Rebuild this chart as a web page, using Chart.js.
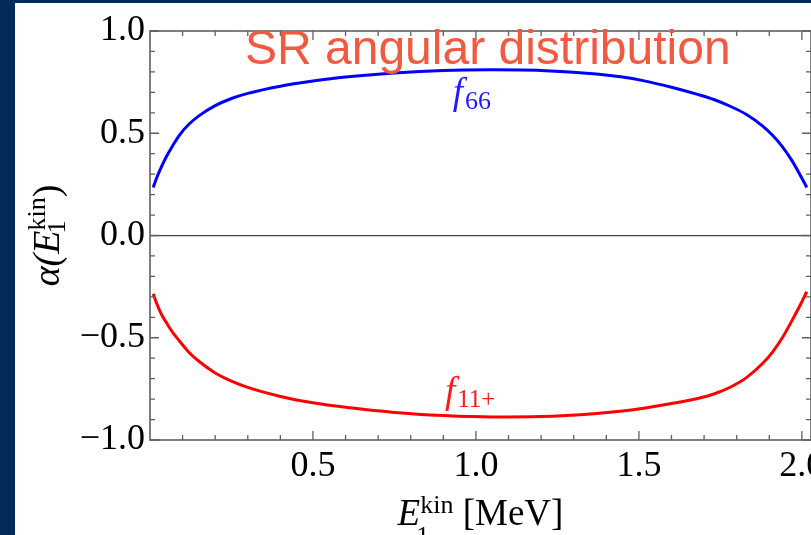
<!DOCTYPE html>
<html>
<head>
<meta charset="utf-8">
<script src="https://cdn.jsdelivr.net/npm/chart.js@4.4.1/dist/chart.umd.min.js"></script>
<style>
  html, body { margin: 0; padding: 0; background: #022a5a; width: 811px; height: 535px; overflow: hidden; }
  #painel { position: absolute; left: 15px; top: 3px; width: 796px; height: 532px; background: #ffffff; }
</style>
</head>
<body>
<div id="painel"><canvas id="grafico"></canvas></div>
<script>
// Energia cinética (MeV) e coeficiente alfa
const energia = [0.01, 0.02, 0.035, 0.05, 0.07, 0.09, 0.12, 0.15, 0.2, 0.25, 0.3, 0.4, 0.5, 0.6, 0.75, 0.9, 1.05, 1.2, 1.37, 1.45, 1.52, 1.6, 1.68, 1.73, 1.78, 1.83, 1.88, 1.91, 1.94, 1.97, 1.995, 2.015];
const alfaF66 = [0.235, 0.28, 0.335, 0.385, 0.44, 0.49, 0.545, 0.585, 0.635, 0.67, 0.695, 0.73, 0.755, 0.775, 0.795, 0.807, 0.81, 0.807, 0.79, 0.775, 0.755, 0.725, 0.69, 0.665, 0.632, 0.592, 0.535, 0.49, 0.435, 0.365, 0.295, 0.235];
const alfaF11 = [-0.285, -0.33, -0.385, -0.425, -0.475, -0.515, -0.572, -0.615, -0.672, -0.712, -0.743, -0.787, -0.818, -0.84, -0.865, -0.88, -0.887, -0.885, -0.87, -0.858, -0.843, -0.822, -0.797, -0.775, -0.742, -0.695, -0.625, -0.57, -0.50, -0.415, -0.34, -0.275];

const titulo = 'SR angular distribution';
const limitesX = [0, 2.028];
const limitesY = [-1, 1];

const serif = '"Liberation Serif", "DejaVu Serif", serif';

function pontos(valores) {
  return energia.map((e, i) => ({ x: e, y: valores[i] }));
}

// escreve texto com sub/sobrescrito, peça por peça
function textoComposto(ctx, partes, x, y, alinhar) {
  let largura = 0;
  partes.forEach(p => {
    ctx.font = p.fonte;
    if (p.avanca !== false) largura += ctx.measureText(p.texto).width;
  });
  let cx = alinhar === 'center' ? x - largura / 2 : x;
  partes.forEach(p => {
    ctx.font = p.fonte;
    ctx.fillText(p.texto, cx + (p.dx || 0), y + (p.dy || 0));
    if (p.avanca !== false) cx += ctx.measureText(p.texto).width;
  });
}

const moldura = {
  id: 'moldura',
  afterDraw(chart) {
    const ctx = chart.ctx;
    const a = chart.chartArea;
    const sx = chart.scales.x;
    const sy = chart.scales.y;
    ctx.save();

    // quadro e marcas para dentro
    ctx.strokeStyle = '#5f5f5f';
    ctx.lineWidth = 1.6;
    ctx.strokeRect(a.left, a.top, a.right - a.left, a.bottom - a.top);
    ctx.lineWidth = 1.3;
    ctx.beginPath();
    for (let i = 1; i <= 20; i++) {
      const v = i / 10;
      const px = sx.getPixelForValue(v);
      const t = i % 5 === 0 ? 9 : 5;
      ctx.moveTo(px, a.bottom); ctx.lineTo(px, a.bottom - t);
      ctx.moveTo(px, a.top); ctx.lineTo(px, a.top + t);
    }
    for (let i = -10; i <= 10; i++) {
      const v = i / 10;
      const py = sy.getPixelForValue(v);
      const t = i % 5 === 0 ? 9 : 5;
      ctx.moveTo(a.left, py); ctx.lineTo(a.left + t, py);
      ctx.moveTo(a.right, py); ctx.lineTo(a.right - t, py);
    }
    ctx.stroke();

    ctx.textAlign = 'left';
    ctx.textBaseline = 'alphabetic';

    // rótulos das curvas
    ctx.fillStyle = '#1a1aff';
    textoComposto(ctx, [
      { texto: 'f', fonte: 'italic 37px ' + serif },
      { texto: '66', fonte: '26px ' + serif, dy: 5, dx: 2 }
    ], sx.getPixelForValue(0.929), sy.getPixelForValue(0.645));
    ctx.fillStyle = '#ff1a1a';
    textoComposto(ctx, [
      { texto: 'f', fonte: 'italic 37px ' + serif },
      { texto: '11+', fonte: '25px ' + serif, dy: 4, dx: 2 }
    ], sx.getPixelForValue(0.905), sy.getPixelForValue(-0.82));

    // título
    ctx.fillStyle = '#f15a40';
    ctx.font = '48px "Liberation Sans", Arial, sans-serif';
    ctx.fillText(titulo, a.left + 95, a.top + 33);

    // eixo x
    ctx.fillStyle = '#000';
    textoComposto(ctx, [
      { texto: 'E', fonte: 'italic 37px ' + serif },
      { texto: '1', fonte: '26px ' + serif, dy: 19, dx: -4, avanca: false },
      { texto: 'kin', fonte: '26px ' + serif, dy: -12 },
      { texto: ' [MeV]', fonte: '37px ' + serif }
    ], (a.left + a.right) / 2, a.bottom + 85, 'center');

    // eixo y (girado)
    ctx.translate(44, (a.top + a.bottom) / 2);
    ctx.rotate(-Math.PI / 2);
    textoComposto(ctx, [
      { texto: 'α(', fonte: 'italic 38px ' + serif },
      { texto: 'E', fonte: 'italic 38px ' + serif },
      { texto: '1', fonte: '26px ' + serif, dy: 6, dx: -3, avanca: false },
      { texto: 'kin', fonte: '26px ' + serif, dy: -14 },
      { texto: ')', fonte: '38px ' + serif }
    ], 0, 0, 'center');
    ctx.restore();
  }
};

new Chart(document.getElementById('grafico'), {
  type: 'line',
  data: {
    datasets: [{
      label: 'f66',
      data: pontos(alfaF66),
      borderColor: '#0000ff',
      borderWidth: 3,
      pointRadius: 0,
      cubicInterpolationMode: 'monotone'
    }, {
      label: 'f11+',
      data: pontos(alfaF11),
      borderColor: '#ff0000',
      borderWidth: 3,
      pointRadius: 0,
      cubicInterpolationMode: 'monotone'
    }]
  },
  options: {
    responsive: true,
    maintainAspectRatio: false,
    animation: false,
    layout: {
      padding: { top: 28, right: 0, left: 0, bottom: 0 }
    },
    scales: {
      x: {
        type: 'linear',
        min: limitesX[0],
        max: limitesX[1],
        grid: { display: false, drawTicks: false },
        border: { display: false },
        ticks: {
          stepSize: 0.5,
          includeBounds: false,
          maxRotation: 0,
          autoSkip: false,
          padding: 5,
          color: '#000',
          font: { family: serif, size: 36 },
          callback: v => v === 0 ? '' : v.toFixed(1)
        },
        afterFit: s => { s.height = 95; s.paddingLeft = 0; s.paddingRight = 0; }
      },
      y: {
        min: limitesY[0],
        max: limitesY[1],
        grid: {
          drawTicks: false,
          lineWidth: 1.2,
          color: c => c.tick && c.tick.value === 0 ? '#444' : 'rgba(0,0,0,0)'
        },
        border: { display: false },
        ticks: {
          stepSize: 0.5,
          padding: 5,
          color: '#000',
          font: { family: serif, size: 36 },
          callback: v => (v < 0 ? '\u2212' : '') + Math.abs(v).toFixed(1)
        },
        afterFit: s => { s.width = 135; }
      }
    },
    plugins: {
      legend: { display: false },
      tooltip: { enabled: false }
    }
  },
  plugins: [moldura]
});
</script>
</body>
</html>
